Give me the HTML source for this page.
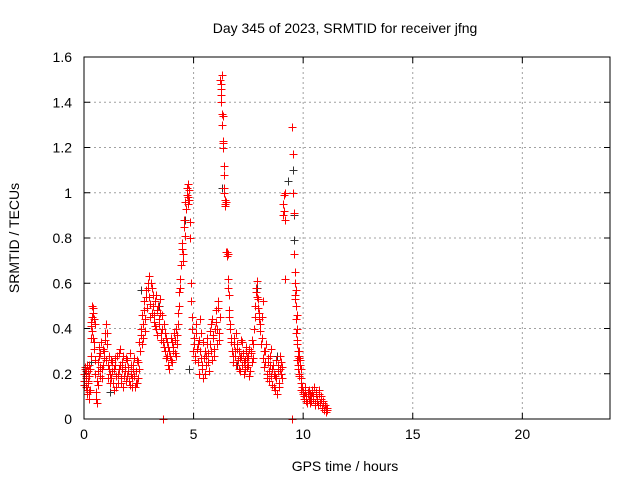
<!DOCTYPE html>
<html><head><meta charset="utf-8"><style>
body{margin:0;background:#fff}
svg{display:block;font-family:"Liberation Sans",sans-serif}
</style></head><body>
<svg id="c" width="640" height="480" viewBox="0 0 640 480">
<rect width="640" height="480" fill="#fff"/>
<text x="345" y="33" font-size="14" text-anchor="middle">Day 345 of 2023, SRMTID for receiver jfng</text>
<text x="345" y="471" font-size="14" text-anchor="middle">GPS time / hours</text>
<text transform="translate(19,238) rotate(-90)" font-size="14" text-anchor="middle">SRMTID / TECUs</text>
<g id="grid"></g><g id="ticks"></g><g id="pts"></g>
<rect x="84" y="57" width="526" height="362" fill="none" stroke="#000" stroke-width="1"/>
</svg>
<script>
const xTicks=[0,5,10,15,20];
const yTicks=[0,0.2,0.4,0.6,0.8,1,1.2,1.4,1.6];
const yTickLabels=["0","0.2","0.4","0.6","0.8","1","1.2","1.4","1.6"];
const redT=[0,0.02,0.05,0.08,0.1,0.12,0.15,0.18,0.2,0.22,0.25,0.28,0.3,0.32,0.35,0.38,0.4,0.42,0.45,0.48,0.5,0.55,0.58,0.6,0.62,0.65,0.7,0.72,0.75,0.8,0.85,0.9,0.95,1.0,1.02,1.05,1.1,1.15,1.2,1.25,1.3,1.35,1.4,1.45,1.5,1.55,1.6,1.65,1.7,1.75,1.8,1.85,1.9,1.95,2.0,2.05,2.1,2.15,2.2,2.25,2.3,2.35,2.4,2.45,2.5,2.55,2.6,2.65,2.7,2.75,2.8,2.85,2.9,2.95,3.0,3.05,3.1,3.15,3.2,3.25,3.3,3.35,3.4,3.45,3.5,3.55,3.6,3.65,3.7,3.75,3.8,3.85,3.9,3.95,4.0,4.05,4.1,4.15,4.2,4.25,4.3,4.35,4.4,4.45,4.5,4.55,4.6,4.65,4.7,4.75,4.78,4.8,4.85,4.9,4.95,5.0,5.05,5.1,5.15,5.2,5.25,5.3,5.35,5.4,5.45,5.5,5.55,5.6,5.65,5.7,5.75,5.8,5.85,5.9,5.95,6.0,6.05,6.1,6.15,6.2,6.22,6.24,6.26,6.28,6.3,6.32,6.34,6.36,6.38,6.4,6.42,6.45,6.5,6.55,6.58,6.6,6.62,6.65,6.7,6.75,6.8,6.85,6.9,6.95,7.0,7.05,7.1,7.15,7.2,7.25,7.3,7.35,7.4,7.45,7.5,7.55,7.6,7.65,7.7,7.75,7.8,7.85,7.9,7.95,8.0,8.05,8.1,8.15,8.2,8.25,8.3,8.35,8.4,8.45,8.5,8.55,8.6,8.65,8.7,8.75,8.8,8.85,8.9,8.95,9.0,9.05,9.1,9.12,9.15,9.18,9.5,9.52,9.55,9.57,9.6,9.62,9.64,9.66,9.68,9.7,9.72,9.74,9.76,9.78,9.8,9.82,9.85,9.88,9.9,9.95,10.0,10.05,10.1,10.15,10.2,10.25,10.3,10.35,10.4,10.45,10.5,10.55,10.6,10.65,10.7,10.75,10.8,10.85,10.9,10.95,11.0,11.05,11.1,3.6,9.5];
const redV=[.20,.17,.22,.14,.19,.24,.11,.21,.16,.09,.19,.13,.28,.41,.45,.50,.36,.47,.31,.42,.26,.09,.17,.07,.21,.25,.32,.19,.29,.22,.31,.27,.35,.42,.26,.38,.18,.22,.16,.26,.21,.13,.24,.19,.28,.16,.22,.31,.18,.25,.14,.21,.27,.19,.23,.17,.29,.20,.14,.24,.19,.16,.26,.18,.22,.30,.37,.33,.42,.48,.39,.54,.58,.63,.51,.60,.47,.55,.43,.52,.40,.48,.44,.53,.38,.46,.34,.42,.30,.36,.28,.32,.22,.26,.34,.30,.38,.29,.40,.33,.47,.56,.62,.75,.70,.85,.81,.93,.99,1.04,1.01,.97,.80,.60,.45,.33,.28,.38,.31,.25,.35,.44,.27,.22,.18,.30,.24,.36,.29,.21,.33,.42,.26,.37,.31,.48,.40,.52,.35,.45,1.50,1.48,1.43,1.35,1.52,1.34,1.22,1.20,1.08,1.00,.97,.94,.74,.73,.62,.55,.48,.42,.36,.30,.25,.33,.28,.38,.31,.22,.27,.35,.24,.29,.20,.26,.32,.23,.28,.19,.30,.35,.27,.40,.50,.56,.61,.53,.47,.42,.36,.52,.30,.25,.33,.20,.27,.17,.24,.31,.22,.14,.19,.26,.11,.21,.16,.28,.20,.23,.90,.99,1.00,.88,1.29,1.17,1.00,.91,.73,.65,.60,.57,.50,.46,.40,.33,.28,.24,.20,.30,.26,.22,.18,.14,.12,.10,.14,.08,.11,.13,.07,.10,.12,.09,.14,.06,.11,.08,.13,.07,.10,.05,.08,.04,.06,.03,.05,0,0];
const redT2=[0.01,0.04,0.07,0.11,0.14,0.17,0.21,0.24,0.27,0.31,0.34,0.37,0.41,0.44,0.47,0.52,0.57,0.63,0.68,0.74,0.78,0.83,0.88,0.93,0.98,1.03,1.08,1.13,1.18,1.23,1.28,1.33,1.38,1.43,1.48,1.53,1.58,1.63,1.68,1.73,1.78,1.83,1.88,1.93,1.98,2.03,2.08,2.13,2.18,2.23,2.28,2.33,2.38,2.43,2.48,2.53,2.58,2.63,2.68,2.73,2.78,2.83,2.88,2.93,2.98,3.03,3.08,3.13,3.18,3.23,3.28,3.33,3.38,3.43,3.48,3.53,3.58,3.63,3.68,3.73,3.78,3.83,3.88,3.93,3.98,4.03,4.08,4.13,4.18,4.23,4.28,4.33,4.38,4.43,4.48,4.53,4.58,4.63,4.68,4.73,4.76,4.82,4.88,4.93,4.98,5.03,5.08,5.13,5.18,5.23,5.28,5.33,5.38,5.43,5.48,5.53,5.58,5.63,5.68,5.73,5.78,5.83,5.88,5.93,5.98,6.03,6.08,6.13,6.18,6.23,6.27,6.29,6.31,6.33,6.37,6.41,6.43,6.47,6.52,6.53,6.57,6.63,6.68,6.73,6.78,6.83,6.88,6.93,6.98,7.03,7.08,7.13,7.18,7.23,7.28,7.33,7.38,7.43,7.48,7.53,7.58,7.63,7.68,7.73,7.78,7.83,7.88,7.93,7.98,8.03,8.08,8.13,8.18,8.23,8.28,8.33,8.38,8.43,8.48,8.53,8.58,8.63,8.68,8.73,8.78,8.83,8.88,8.93,8.98,9.03,9.08,9.14,9.16,9.63,9.65,9.67,9.69,9.71,9.73,9.75,9.77,9.79,9.81,9.83,9.86,9.89,9.92,9.97,10.02,10.07,10.12,10.17,10.22,10.27,10.32,10.37,10.42,10.47,10.52,10.57,10.62,10.67,10.72,10.77,10.82,10.87,10.92,10.97,11.02,11.07,11.12];
const redV2=[.15,.23,.18,.21,.13,.17,.24,.12,.22,.36,.43,.39,.49,.34,.44,.20,.12,.15,.28,.23,.34,.18,.24,.30,.38,.33,.24,.28,.20,.18,.25,.16,.22,.27,.14,.20,.29,.24,.16,.22,.28,.19,.23,.17,.26,.21,.15,.24,.18,.22,.27,.14,.21,.16,.25,.34,.40,.46,.36,.52,.44,.57,.49,.60,.54,.45,.58,.50,.46,.41,.55,.37,.50,.42,.47,.35,.40,.32,.38,.27,.34,.24,.30,.28,.36,.25,.32,.35,.28,.37,.42,.50,.58,.68,.78,.73,.88,.96,1.02,.98,.95,.87,.52,.40,.30,.36,.26,.42,.33,.20,.30,.38,.24,.34,.27,.20,.28,.33,.25,.39,.30,.44,.36,.28,.40,.43,.33,.49,.38,1.46,1.40,1.52,1.30,1.23,1.12,1.02,.95,.96,.72,.74,.58,.45,.40,.34,.28,.36,.30,.24,.33,.26,.30,.21,.28,.34,.25,.22,.30,.27,.24,.31,.21,.29,.25,.33,.45,.58,.54,.49,.44,.39,.33,.45,.27,.23,.30,.18,.25,.21,.28,.19,.15,.24,.20,.13,.18,.24,.14,.22,.25,.18,.95,.92,.62,.55,.53,.44,.38,.35,.26,.30,.22,.27,.19,.28,.24,.16,.13,.11,.09,.12,.10,.07,.12,.09,.11,.08,.13,.10,.07,.12,.09,.06,.11,.07,.09,.05,.07,.04,.05,.04];
const darkT=[0.05,0.3,1.2,2.6,3.4,4.6,4.8,6.3,7.0,7.9,8.8,9.3,9.55,9.6,9.56,9.8,10.3];
const darkV=[.22,.25,.12,.57,.50,.88,.22,1.02,.24,.58,.28,1.05,1.10,.79,.90,.27,.10];
const NS="http://www.w3.org/2000/svg";
const X0=84,X1=610,Y0=419,Y1=57;
function sx(t){return X0+(t/24)*(X1-X0);}
function sy(v){return Y0-(v/1.6)*(Y0-Y1);}
const grid=document.getElementById('grid'),ticks=document.getElementById('ticks'),pts=document.getElementById('pts');
function mk(tag,a,p){const e=document.createElementNS(NS,tag);for(const k in a)e.setAttribute(k,a[k]);p.appendChild(e);return e;}
xTicks.forEach((t,i)=>{const x=sx(t);
 if(i>0){const g=mk('line',{x1:x,x2:x,y1:Y0,y2:Y1,stroke:'#a0a0a0','stroke-dasharray':'2,3'},grid);
 
 }
 mk('line',{x1:x,x2:x,y1:Y0,y2:Y0-6,stroke:'#000'},ticks);mk('line',{x1:x,x2:x,y1:Y1,y2:Y1+6,stroke:'#000'},ticks);
 const l=mk('text',{x:x,y:Y0+20,'font-size':14,'text-anchor':'middle'},ticks);l.textContent=t;
 
 });
yTicks.forEach((v,i)=>{const y=sy(v);
 if(i>0&&i<yTicks.length-1){const g=mk('line',{x1:X0,x2:X1,y1:y,y2:y,stroke:'#a0a0a0','stroke-dasharray':'2,3'},grid);
 
 }
 mk('line',{x1:X0,x2:X0+6,y1:y,y2:y,stroke:'#000'},ticks);mk('line',{x1:X1,x2:X1-6,y1:y,y2:y,stroke:'#000'},ticks);
 const l=mk('text',{x:X0-12,y:y+5,'font-size':14,'text-anchor':'end'},ticks);l.textContent=yTickLabels[i];
 
 });
function plus(t,v,col,name){const x=Math.round(sx(t))+0.5,y=Math.round(sy(v))+0.5;
 const p=mk('path',{d:`M${x-4},${y}H${x+4}M${x},${y-4}V${y+4}`,stroke:col,'stroke-width':1,fill:'none'},pts);
 
 }
darkT.forEach((t,i)=>plus(t,darkV[i],'#333','dark-point'));
redT.forEach((t,i)=>plus(t,redV[i],'#ff0000','red-point'));
redT2.forEach((t,i)=>plus(t,redV2[i],'#ff0000','red-point'));
</script>
</body></html>
